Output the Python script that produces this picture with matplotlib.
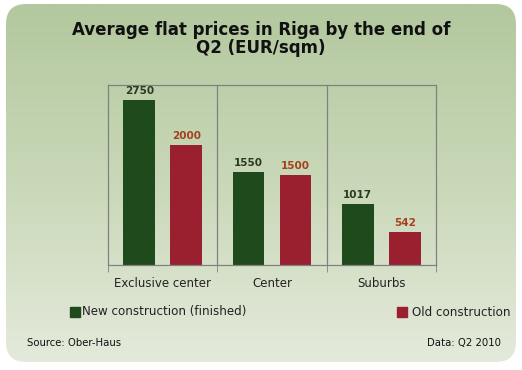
import matplotlib.pyplot as plt
import numpy as np
from matplotlib.patches import FancyBboxPatch
from matplotlib.colors import LinearSegmentedColormap

# data
categories = ['Exclusive center', 'Center', 'Suburbs']
new_construction = [2750, 1550, 1017]
old_construction = [2000, 1500, 542]
series_labels = ['New construction (finished)', 'Old construction']

green = '#1f4a1b'
red = '#9a2030'

fig = plt.figure(figsize=(5.22, 3.70), dpi=100)
fig.patch.set_facecolor('white')

# rounded gradient background
bg = fig.add_axes([0, 0, 1, 1])
bg.set_xlim(0, 522)
bg.set_ylim(370, 0)
bg.axis('off')
cmap = LinearSegmentedColormap.from_list('bg', ['#b3c89e', '#c9d8b8', '#e4eadb'])
grad = np.linspace(0, 1, 256).reshape(-1, 1)
im = bg.imshow(grad, cmap=cmap, extent=[6, 516, 362, 4], aspect='auto')
box = FancyBboxPatch((6, 4), 510, 358, boxstyle='round,pad=0,rounding_size=20',
                     facecolor='none', edgecolor='none')
bg.add_patch(box)
im.set_clip_path(box)

fig.text(0.5, 1 - 39 / 370, 'Average flat prices in Riga by the end of\nQ2 (EUR/sqm)',
         ha='center', va='center', fontsize=12, fontweight='bold',
         color='#111111', linespacing=1.05)

ax = fig.add_axes([0.207, 0.284, 0.628, 0.486])
ax.set_facecolor('none')
x = np.arange(len(categories))
w = 0.29
b1 = ax.bar(x - 0.215, new_construction, w, color=green)
b2 = ax.bar(x + 0.215, old_construction, w, color=red)

for rect, v in zip(b1, new_construction):
    ax.text(rect.get_x() + rect.get_width() / 2, v + 70, str(v), ha='center', va='bottom',
            fontsize=7.5, fontweight='bold', color='#2a3a1f')
for rect, v in zip(b2, old_construction):
    ax.text(rect.get_x() + rect.get_width() / 2, v + 70, str(v), ha='center', va='bottom',
            fontsize=7.5, fontweight='bold', color='#a5401f')

ax.set_xlim(-0.5, 2.5)
ax.set_ylim(0, 3000)
ax.set_yticks([])
ax.set_xticks(x)
ax.set_xticklabels(categories, fontsize=8.5, color='#222222')
ax.tick_params(axis='x', which='major', length=0, pad=9)
ax.set_xticks([-0.5, 0.5, 1.5, 2.5], minor=True)
ax.tick_params(axis='x', which='minor', length=5, color='#808080', direction='out')
for b in [0.5, 1.5]:
    ax.axvline(b, color='#808080', lw=0.9)
for s in ax.spines.values():
    s.set_color('#808080')
    s.set_linewidth(0.9)

# legend
fig.patches.append(plt.Rectangle((70 / 522, 1 - 317 / 370), 10 / 522, 10 / 370,
                                 transform=fig.transFigure, color=green))
fig.text(82 / 522, 1 - 312 / 370, series_labels[0], fontsize=8.6, va='center', color='#222222')
fig.patches.append(plt.Rectangle((397 / 522, 1 - 317 / 370), 10 / 522, 10 / 370,
                                 transform=fig.transFigure, color=red))
fig.text(412 / 522, 1 - 312 / 370, series_labels[1], fontsize=8.6, va='center', color='#222222')

fig.text(27 / 522, 1 - 343 / 370, 'Source: Ober-Haus', fontsize=7.3, va='center', color='#111111')
fig.text(501 / 522, 1 - 343 / 370, 'Data: Q2 2010', fontsize=7.3, va='center', ha='right', color='#111111')

fig.savefig('out.png', dpi=100)
